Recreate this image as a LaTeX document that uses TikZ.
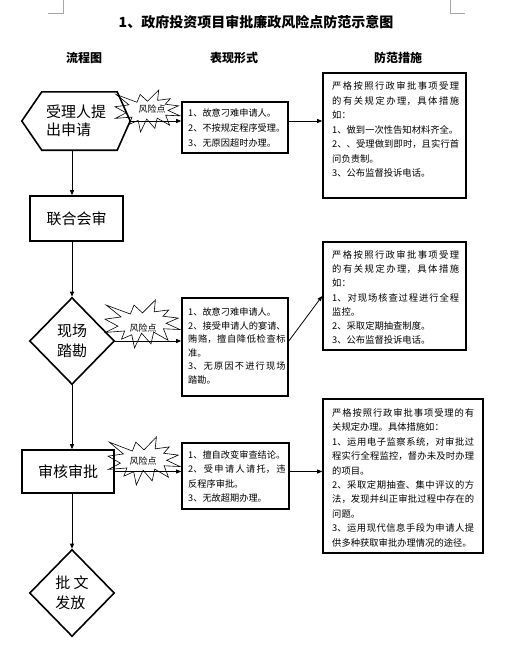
\documentclass[tikz,border=0pt]{standalone}
\usepackage{fontspec}
\setmainfont{Noto Sans CJK SC}
\XeTeXlinebreaklocale "zh"
\XeTeXlinebreakskip=0pt plus 3pt
\usetikzlibrary{shapes.geometric,arrows.meta}

% explosion outline, unit box, y runs down
\tikzset{riskstar/.pic={
  \draw[line width=0.6pt] (0.5,0.2685) -- (0.6723,0) -- (0.6553,0.2465) -- (0.8509,0.2063)
    -- (0.7732,0.3387) -- (0.9767,0.3767) -- (0.8151,0.4850) -- (1,0.6153)
    -- (0.7795,0.5992) -- (0.8400,0.8377) -- (0.6491,0.6693) -- (0.6133,0.9137)
    -- (0.4876,0.6914) -- (0.3928,1) -- (0.3572,0.7235) -- (0.2205,0.8156)
    -- (0.2624,0.6452) -- (0.0063,0.6753) -- (0.1723,0.5451) -- (0,0.3988)
    -- (0.2142,0.3526) -- (0.0171,0.1063) -- (0.3385,0.2926) -- (0.3867,0.1063) -- cycle;
}}

\begin{document}
\begin{tikzpicture}[x=1pt, y=-1pt,
    flow/.style={line width=0.8pt, -{Triangle[length=5pt,width=4pt]}},
    stagebox/.style={draw, line width=1.6pt, inner sep=0pt, font=\fontsize{15}{18}\selectfont},
    stagediamond/.style={diamond, draw, line width=1.6pt, inner sep=0pt, align=left,
        minimum width=85pt, minimum height=87pt, font=\fontsize{15}{20}\selectfont},
    riskbox/.style={draw, line width=1.6pt, inner sep=0pt},
    formtext/.style={anchor=north west, inner sep=0pt, align=justify},
    risklabel/.style={inner sep=0pt, font=\fontsize{9}{10}\selectfont},
    headtext/.style={font=\bfseries\fontsize{12}{14}\selectfont}]
    \useasboundingbox (0,0) rectangle (511,653);

    % Page corner marks
    \draw[gray!70, line width=0.5pt] (48,13) -- (63,13) -- (63,0);
    \draw[gray!70, line width=0.5pt] (450,0) -- (450,13) -- (465,13);

    % Title and column heads
    \node[font=\bfseries\fontsize{14}{16}\selectfont] (title) at (256,22) {1、政府投资项目审批廉政风险点防范示意图};
    \node[headtext] (headflow) at (84,58) {流程图};
    \node[headtext] (headform) at (234,58) {表现形式};
    \node[headtext] (headguard) at (398,58) {防范措施};

    \coordinate (spine) at (72,0);

    % Flow chart column
    \node[minimum width=108pt, minimum height=58pt, inner sep=0pt, align=left,
        font=\fontsize{15}{18}\selectfont] (apply) at (76,121) {受理人提\\出申请};
    \draw[line width=1.6pt] (apply.west) -- ([xshift=20pt]apply.north west) -- ([xshift=-13pt]apply.north east)
        -- (apply.east) -- ([xshift=-13pt]apply.south east) -- ([xshift=20pt]apply.south west) -- cycle;
    \node[stagebox, minimum width=93pt, minimum height=45pt] (meet) at (76.5,218.5) {联合会审};
    \node[stagediamond] (site) at (72,341) {现场\\踏勘};
    \node[stagebox, minimum width=92pt, minimum height=43pt] (review) at (68,471.5) {审核审批};
    \node[stagediamond] (issue) at (72,593) {批 文\\发放};

    \draw[flow] (apply.south -| spine) -- (meet.north -| spine);
    \draw[flow] (meet.south -| spine) -- (site.north);
    \draw[flow] (site.south) -- (review.north -| spine);
    \draw[flow] (review.south -| spine) -- (issue.north);

    % Risk forms
    \node[riskbox, minimum width=106pt, minimum height=51pt] (form1) at (235,127.5) {};
    \node[formtext, text width=97.5pt, font=\fontsize{9.2}{15}\selectfont] (form1 text) at (188,108.5)
        {1、故意刁难申请人。\\2、不按规定程序受理。\\3、无原因超时办理。};
    \node[riskbox, minimum width=106pt, minimum height=98pt] (form2) at (235,347) {};
    \node[formtext, text width=97.5pt, font=\fontsize{9.2}{13.5}\selectfont] (form2 text) at (188,307.5)
        {1、故意刁难申请人。\\2、接受申请人的宴请、\linebreak 贿赂，擅自降低检查标\linebreak 准。\\3、无原因不进行现场\linebreak 踏勘。};
    \node[riskbox, minimum width=107pt, minimum height=66pt] (form3) at (235.5,476) {};
    \node[formtext, text width=97.5pt, font=\fontsize{9.2}{14.3}\selectfont] (form3 text) at (188,450.5)
        {1、擅自改变审查结论。\\2、受申请人请托，违\linebreak 反程序审批。\\3、无故超期办理。};

    % Guard measures
    \node[riskbox, minimum width=143pt, minimum height=125pt] (guard1) at (394.5,135.5) {};
    \node[formtext, text width=127pt, font=\fontsize{9.3}{14.5}\selectfont] (guard1 text) at (332,81.5)
        {严格按照行政审批事项受理\linebreak 的有关规定办理，具体措施\linebreak 如：\\1、做到一次性告知材料齐全。\\2、、受理做到即时，且实行首\linebreak 问负责制。\\3、公布监督投诉电话。};
    \node[riskbox, minimum width=143pt, minimum height=108pt] (guard2) at (394.5,296) {};
    \node[formtext, text width=127pt, font=\fontsize{9.3}{14.2}\selectfont] (guard2 text) at (332,250.5)
        {严格按照行政审批事项受理\linebreak 的有关规定办理，具体措施\linebreak 如：\\1、对现场核查过程进行全程\linebreak 监控。\\2、采取定期抽查制度。\\3、公布监督投诉电话。};
    \node[riskbox, minimum width=160pt, minimum height=154pt] (guard3) at (403,476) {};
    \node[formtext, text width=142pt, font=\fontsize{9.3}{14.4}\selectfont] (guard3 text) at (332,408.5)
        {严格按照行政审批事项受理的有\linebreak 关规定办理。具体措施如：\\1、运用电子监察系统，对审批过\linebreak 程实行全程监控，督办未及时办理\linebreak 的项目。\\2、采取定期抽查、集中评议的方\linebreak 法，发现并纠正审批过程中存在的\linebreak 问题。\\3、运用现代信息手段为申请人提\linebreak 供多种获取审批办理情况的途径。};

    % Links to forms and measures
    \draw[flow] (apply.east) -- (apply.east -| form1.west);
    \draw[flow] (form1.east |- apply.east) -- (guard1.west |- apply.east);
    \draw[flow] (site.east) -- (site.east -| form2.west);
    \draw[flow] (form2.east |- site.east) -- (guard2.west);
    \draw[flow] (review.east) -- (review.east -| form3.west);
    \draw[flow] (form3.east |- review.east) -- (guard3.west |- review.east);

    % Risk points
    \pic[xscale=65, yscale=42] at (115,90) {riskstar};
    \node[risklabel] (risk1) at (152,109) {风险点};
    \pic[xscale=75, yscale=48] at (105,300) {riskstar};
    \node[risklabel] (risk2) at (143,328) {风险点};
    \pic[xscale=72, yscale=48] at (108,437) {riskstar};
    \node[risklabel] (risk3) at (143,461) {风险点};

\end{tikzpicture}
\end{document}
